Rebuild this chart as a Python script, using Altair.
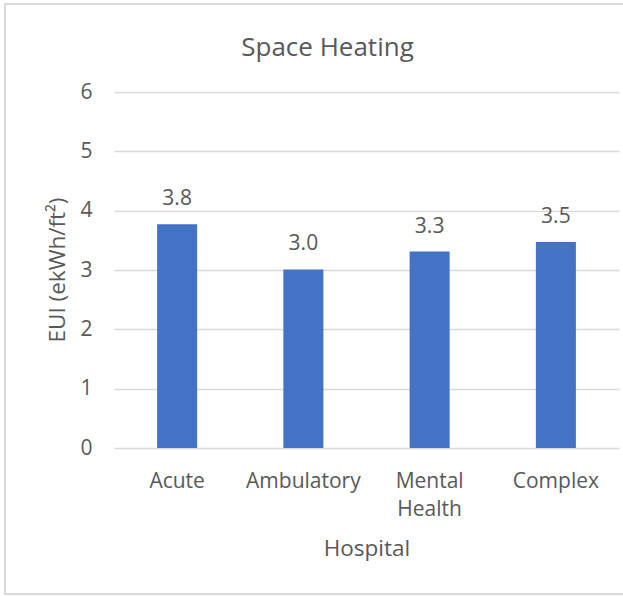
import altair as alt
import pandas as pd

# Space heating energy use intensity by hospital type
hospitals = ["Acute", "Ambulatory", "Mental Health", "Complex"]
eui = [3.77, 3.01, 3.31, 3.47]
y_title = "EUI (ekWh/ft²)"

df = pd.DataFrame({"Hospital": hospitals, "EUI": eui})

FONT = "Open Sans"
TEXT = "#595959"
GRID = "#d9d9d9"
BLUE = "#4472C4"

x_enc = alt.X(
    "Hospital:N",
    sort=hospitals,
    title="Hospital",
    scale=alt.Scale(paddingInner=0.683, paddingOuter=0.3415),
    axis=alt.Axis(
        labelAngle=0,
        labelExpr="split(datum.label, ' ')",
        labelFont=FONT,
        labelFontSize=21,
        labelColor=TEXT,
        labelBaseline="alphabetic",
        labelPadding=39,
        labelLineHeight=28,
        ticks=False,
        tickSize=0,
        domain=False,
        titleFont=FONT,
        titleFontSize=22.5,
        titleFontWeight="normal",
        titleColor=TEXT,
        titleBaseline="alphabetic",
        titleY=107,
    ),
)

y_enc = alt.Y(
    "EUI:Q",
    title=None,
    scale=alt.Scale(domain=[0, 6]),
    axis=alt.Axis(
        values=[0, 1, 2, 3, 4, 5, 6],
        format="d",
        grid=True,
        gridColor=GRID,
        gridWidth=1.5,
        domain=False,
        ticks=False,
        tickSize=0,
        labelFont=FONT,
        labelFontSize=21,
        labelColor=TEXT,
        labelPadding=22,
    ),
)

base = alt.Chart(df)

bars = base.mark_bar(color=BLUE).encode(x=x_enc, y=y_enc)

labels = base.mark_text(
    font=FONT, fontSize=21, color=TEXT, baseline="alphabetic", dy=-19
).encode(
    x=alt.X("Hospital:N", sort=hospitals),
    y="EUI:Q",
    text=alt.Text("EUI:Q", format=".1f"),
)

# rotated y-axis title, placed to the left of the tick labels
y_label = alt.Chart(alt.Data(values=[{"t": y_title}])).mark_text(
    font=FONT, fontSize=22.5, color=TEXT, angle=270, align="center", baseline="middle"
).encode(
    x=alt.value(-56), y=alt.value(178), text="t:N"
)

# thin outline around the whole chart area
frame = alt.Chart(alt.Data(values=[{"f": 1}])).mark_rect(
    fillOpacity=0, stroke=GRID, strokeWidth=2
).encode(
    x=alt.value(-109), x2=alt.value(510), y=alt.value(-88), y2=alt.value(502)
)

chart = (
    alt.layer(frame, bars, labels, y_label)
    .properties(
        width=505,
        height=356,
        title=alt.TitleParams(
            "Space Heating",
            font=FONT,
            fontSize=26,
            fontWeight="normal",
            color=TEXT,
            anchor="middle",
            frame="group",
            baseline="alphabetic",
            offset=0,
            dx=-39,
            dy=79,
        ),
        autosize=alt.AutoSizeParams(type="none"),
        padding={"left": 114, "top": 92, "right": 4, "bottom": 148},
        background="white",
    )
    .configure_view(stroke=None)
)

chart.save("out.html", embed_options={"renderer": "svg", "actions": False})
